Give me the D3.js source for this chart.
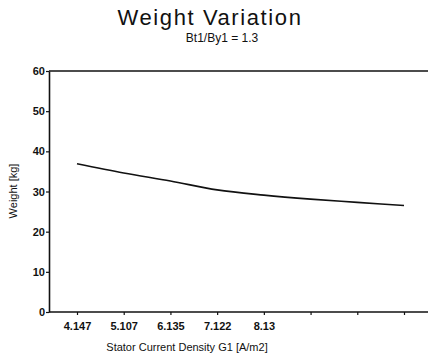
<!DOCTYPE html>
<html>
<head>
<meta charset="utf-8">
<script src="https://cdn.jsdelivr.net/npm/d3@7"></script>
<style>
  body { margin: 0; background: #fff; }
  text { font-family: "Liberation Sans", Arial, sans-serif; fill: #111; }
</style>
</head>
<body>
<div class="box"></div>
<script>
// Data
const densities = ["4.147", "5.107", "6.135", "7.122", "8.13", "p6", "p7", "p8"];
const tickLabels = ["4.147", "5.107", "6.135", "7.122", "8.13", "", "", ""];
const weights = [36.9, 34.6, 32.6, 30.4, 29.1, 28.1, 27.3, 26.5];
const yTicks = [0, 10, 20, 30, 40, 50, 60];

const w = 429;
const h = 356;
const plotLeft = 49, plotRight = 428, plotTop = 71, plotBottom = 312;

const svg = d3.select(".box")
    .append("svg")
    .attr("width", w)
    .attr("height", h);

// scales
const xScale = d3.scalePoint()
    .domain(densities)
    .range([77, 404]);

const yScale = d3.scaleLinear()
    .domain([0, 60])
    .range([plotBottom, plotTop]);

// top frame line
svg.append("line")
    .attr("x1", plotLeft).attr("x2", plotRight)
    .attr("y1", plotTop).attr("y2", plotTop)
    .attr("stroke", "#111")
    .attr("stroke-width", 1.6);

// axes
const xAxis = d3.axisBottom(xScale)
    .tickSize(3)
    .tickSizeOuter(0)
    .tickFormat((d, i) => tickLabels[i]);

const yAxis = d3.axisLeft(yScale)
    .tickValues(yTicks)
    .tickSize(3)
    .tickSizeOuter(0);

const gx = svg.append("g")
    .attr("transform", "translate(0," + plotBottom + ")")
    .call(xAxis);
gx.select(".domain").attr("d", "M" + plotLeft + ",0H" + plotRight);

const gy = svg.append("g")
    .attr("transform", "translate(" + plotLeft + ",0)")
    .call(yAxis);

svg.selectAll(".domain").attr("stroke", "#111").attr("stroke-width", 1.6);
svg.selectAll(".tick line").attr("stroke", "#111").attr("stroke-width", 1.2);
svg.selectAll(".tick text")
    .style("font-family", "Liberation Sans, Arial, sans-serif")
    .style("font-size", "11px")
    .style("font-weight", "bold")
    .attr("fill", "#111");
gx.selectAll(".tick text").attr("dy", "1.1em");
gy.selectAll(".tick text").attr("x", -4);

// the weight line
const line = d3.line()
    .x((d, i) => xScale(densities[i]))
    .y(d => yScale(d))
    .curve(d3.curveMonotoneX);

svg.append("path")
    .datum(weights)
    .attr("d", line)
    .attr("fill", "none")
    .attr("stroke", "#111")
    .attr("stroke-width", 1.6);

// titles
svg.append("text")
    .attr("x", 210).attr("y", 25)
    .attr("text-anchor", "middle")
    .style("font-size", "22px")
    .style("letter-spacing", "1.6px")
    .text("Weight Variation");

svg.append("text")
    .attr("x", 222).attr("y", 42)
    .attr("text-anchor", "middle")
    .style("font-size", "12px")
    .text("Bt1/By1 = 1.3");

svg.append("text")
    .attr("transform", "translate(17,191) rotate(-90)")
    .attr("text-anchor", "middle")
    .style("font-size", "11px")
    .text("Weight [kg]");

svg.append("text")
    .attr("x", 187).attr("y", 351)
    .attr("text-anchor", "middle")
    .style("font-size", "11px")
    .text("Stator Current Density G1 [A/m2]");
</script>
</body>
</html>
